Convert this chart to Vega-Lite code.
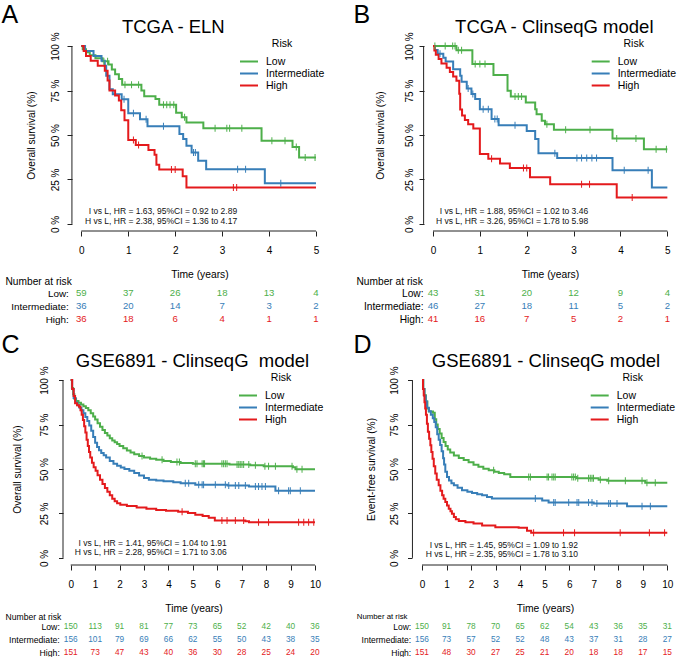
{
"$schema": "https://vega.github.io/schema/vega-lite/v6.json",
"background": "white",
"padding": {"left": 1, "top": 2, "right": 0, "bottom": 0},
"columns": 2,
"spacing": {"row": 45, "column": 87},
"bounds": "flush",
"resolve": {"legend": {"color": "independent"}, "scale": {"x": "independent", "y": "independent"}},
"config": {
  "font": "Liberation Sans",
  "view": {"stroke": null},
  "axis": {"grid": false, "labelColor": "#000", "titleColor": "#000", "tickColor": "#222", "labelFlush": false, "labelOverlap": false, "titleFontWeight": "normal"},
  "axisQuantitative": {"domain": false, "grid": false, "tickSize": 5, "labelFontSize": 10},
  "legend": {"labelColor": "#000", "titleColor": "#000"},
  "title": {"color": "#000", "fontWeight": "normal"}
},
"datasets": {
"km": [
{"p":"A","g":"Low","t":0,"s":100},{"p":"A","g":"Low","t":0.03,"s":98.3},{"p":"A","g":"Low","t":0.1,"s":96.6},{"p":"A","g":"Low","t":0.18,"s":94.9},{"p":"A","g":"Low","t":0.3,"s":93.2},{"p":"A","g":"Low","t":0.45,"s":91.5},{"p":"A","g":"Low","t":0.48,"s":91.5,"c":1},{"p":"A","g":"Low","t":0.56,"s":91.5,"c":1},{"p":"A","g":"Low","t":0.58,"s":89.7},{"p":"A","g":"Low","t":0.65,"s":86.9},{"p":"A","g":"Low","t":0.72,"s":84.2},{"p":"A","g":"Low","t":0.8,"s":81.5},{"p":"A","g":"Low","t":0.87,"s":78.3},{"p":"A","g":"Low","t":0.93,"s":78.3,"c":1},{"p":"A","g":"Low","t":1.07,"s":78.3,"c":1},{"p":"A","g":"Low","t":1.22,"s":78.3,"c":1},{"p":"A","g":"Low","t":1.28,"s":75.1},{"p":"A","g":"Low","t":1.34,"s":71.8},{"p":"A","g":"Low","t":1.58,"s":70.2},{"p":"A","g":"Low","t":1.66,"s":67},{"p":"A","g":"Low","t":1.75,"s":67,"c":1},{"p":"A","g":"Low","t":1.82,"s":67,"c":1},{"p":"A","g":"Low","t":1.89,"s":67,"c":1},{"p":"A","g":"Low","t":1.97,"s":67,"c":1},{"p":"A","g":"Low","t":2.02,"s":62.5},{"p":"A","g":"Low","t":2.14,"s":60},{"p":"A","g":"Low","t":2.2,"s":60,"c":1},{"p":"A","g":"Low","t":2.24,"s":57},{"p":"A","g":"Low","t":2.6,"s":53.8},{"p":"A","g":"Low","t":2.85,"s":53.8,"c":1},{"p":"A","g":"Low","t":3.1,"s":53.8,"c":1},{"p":"A","g":"Low","t":3.16,"s":53.8,"c":1},{"p":"A","g":"Low","t":3.42,"s":53.8,"c":1},{"p":"A","g":"Low","t":3.84,"s":46.8},{"p":"A","g":"Low","t":4.06,"s":46.8,"c":1},{"p":"A","g":"Low","t":4.34,"s":46.8,"c":1},{"p":"A","g":"Low","t":4.5,"s":43.2},{"p":"A","g":"Low","t":4.58,"s":43.2,"c":1},{"p":"A","g":"Low","t":4.64,"s":37.3},{"p":"A","g":"Low","t":4.77,"s":37.3,"c":1},{"p":"A","g":"Low","t":4.98,"s":37.3,"c":1},{"p":"A","g":"Low","t":5,"s":37.3},
{"p":"A","g":"Intermediate","t":0,"s":100},{"p":"A","g":"Intermediate","t":0.08,"s":97.2},{"p":"A","g":"Intermediate","t":0.26,"s":94.4},{"p":"A","g":"Intermediate","t":0.43,"s":91.7},{"p":"A","g":"Intermediate","t":0.5,"s":88.9},{"p":"A","g":"Intermediate","t":0.53,"s":83.3},{"p":"A","g":"Intermediate","t":0.6,"s":75.8},{"p":"A","g":"Intermediate","t":0.67,"s":72.9},{"p":"A","g":"Intermediate","t":0.86,"s":70.1},{"p":"A","g":"Intermediate","t":0.91,"s":70.1,"c":1},{"p":"A","g":"Intermediate","t":1,"s":62.3},{"p":"A","g":"Intermediate","t":1.11,"s":62.3,"c":1},{"p":"A","g":"Intermediate","t":1.25,"s":58.9},{"p":"A","g":"Intermediate","t":1.38,"s":58.9,"c":1},{"p":"A","g":"Intermediate","t":1.41,"s":54.9},{"p":"A","g":"Intermediate","t":1.75,"s":54.9,"c":1},{"p":"A","g":"Intermediate","t":2.09,"s":50.5},{"p":"A","g":"Intermediate","t":2.17,"s":47.7},{"p":"A","g":"Intermediate","t":2.24,"s":43.9},{"p":"A","g":"Intermediate","t":2.35,"s":40.2},{"p":"A","g":"Intermediate","t":2.39,"s":40.2,"c":1},{"p":"A","g":"Intermediate","t":2.43,"s":40.2,"c":1},{"p":"A","g":"Intermediate","t":2.49,"s":35.5},{"p":"A","g":"Intermediate","t":2.66,"s":30.8},{"p":"A","g":"Intermediate","t":3.33,"s":30.8,"c":1},{"p":"A","g":"Intermediate","t":3.5,"s":30.8,"c":1},{"p":"A","g":"Intermediate","t":3.91,"s":22.9},{"p":"A","g":"Intermediate","t":4.25,"s":22.9,"c":1},{"p":"A","g":"Intermediate","t":5,"s":22.9},
{"p":"A","g":"High","t":0,"s":100},{"p":"A","g":"High","t":0.05,"s":97.2},{"p":"A","g":"High","t":0.1,"s":94.4},{"p":"A","g":"High","t":0.2,"s":91.7},{"p":"A","g":"High","t":0.35,"s":88.9},{"p":"A","g":"High","t":0.5,"s":86.1},{"p":"A","g":"High","t":0.56,"s":80.6},{"p":"A","g":"High","t":0.6,"s":75},{"p":"A","g":"High","t":0.72,"s":72.2},{"p":"A","g":"High","t":0.8,"s":69.4},{"p":"A","g":"High","t":0.85,"s":63.9},{"p":"A","g":"High","t":0.92,"s":58.3},{"p":"A","g":"High","t":1,"s":47.2},{"p":"A","g":"High","t":1.11,"s":47.2,"c":1},{"p":"A","g":"High","t":1.16,"s":44.4},{"p":"A","g":"High","t":1.22,"s":44.4,"c":1},{"p":"A","g":"High","t":1.43,"s":41.6},{"p":"A","g":"High","t":1.56,"s":38.9},{"p":"A","g":"High","t":1.6,"s":33.3},{"p":"A","g":"High","t":1.66,"s":30.6},{"p":"A","g":"High","t":1.92,"s":30.6,"c":1},{"p":"A","g":"High","t":2,"s":30.6,"c":1},{"p":"A","g":"High","t":2.16,"s":26.8},{"p":"A","g":"High","t":2.24,"s":20.4},{"p":"A","g":"High","t":3.24,"s":20.4,"c":1},{"p":"A","g":"High","t":3.31,"s":20.4,"c":1},{"p":"A","g":"High","t":5,"s":20.4},
{"p":"B","g":"Low","t":0,"s":100},{"p":"B","g":"Low","t":0.04,"s":100,"c":1},{"p":"B","g":"Low","t":0.26,"s":100,"c":1},{"p":"B","g":"Low","t":0.42,"s":100,"c":1},{"p":"B","g":"Low","t":0.47,"s":100,"c":1},{"p":"B","g":"Low","t":0.5,"s":97.7},{"p":"B","g":"Low","t":0.54,"s":97.7,"c":1},{"p":"B","g":"Low","t":0.61,"s":97.7,"c":1},{"p":"B","g":"Low","t":0.84,"s":89.9},{"p":"B","g":"Low","t":0.9,"s":89.9,"c":1},{"p":"B","g":"Low","t":1,"s":89.9,"c":1},{"p":"B","g":"Low","t":1.11,"s":89.9,"c":1},{"p":"B","g":"Low","t":1.29,"s":83.7},{"p":"B","g":"Low","t":1.59,"s":74.9},{"p":"B","g":"Low","t":1.66,"s":71.7},{"p":"B","g":"Low","t":1.75,"s":71.7,"c":1},{"p":"B","g":"Low","t":1.82,"s":71.7,"c":1},{"p":"B","g":"Low","t":1.89,"s":71.7,"c":1},{"p":"B","g":"Low","t":1.98,"s":68.3},{"p":"B","g":"Low","t":2.18,"s":64.5},{"p":"B","g":"Low","t":2.21,"s":61.7},{"p":"B","g":"Low","t":2.32,"s":58},{"p":"B","g":"Low","t":2.39,"s":56.1},{"p":"B","g":"Low","t":2.43,"s":56.1,"c":1},{"p":"B","g":"Low","t":2.58,"s":52.9},{"p":"B","g":"Low","t":2.83,"s":52.9,"c":1},{"p":"B","g":"Low","t":3.35,"s":52.9,"c":1},{"p":"B","g":"Low","t":3.83,"s":48},{"p":"B","g":"Low","t":3.92,"s":48,"c":1},{"p":"B","g":"Low","t":4.33,"s":48,"c":1},{"p":"B","g":"Low","t":4.5,"s":42},{"p":"B","g":"Low","t":4.76,"s":42,"c":1},{"p":"B","g":"Low","t":4.98,"s":42,"c":1},{"p":"B","g":"Low","t":5,"s":42},
{"p":"B","g":"Intermediate","t":0,"s":100},{"p":"B","g":"Intermediate","t":0.04,"s":97.8},{"p":"B","g":"Intermediate","t":0.1,"s":95.7},{"p":"B","g":"Intermediate","t":0.15,"s":95.7,"c":1},{"p":"B","g":"Intermediate","t":0.22,"s":93.5},{"p":"B","g":"Intermediate","t":0.27,"s":91.3},{"p":"B","g":"Intermediate","t":0.43,"s":87},{"p":"B","g":"Intermediate","t":0.58,"s":83.3},{"p":"B","g":"Intermediate","t":0.61,"s":80},{"p":"B","g":"Intermediate","t":0.72,"s":76.2},{"p":"B","g":"Intermediate","t":0.75,"s":76.2,"c":1},{"p":"B","g":"Intermediate","t":0.82,"s":73},{"p":"B","g":"Intermediate","t":0.85,"s":73,"c":1},{"p":"B","g":"Intermediate","t":0.9,"s":70.2},{"p":"B","g":"Intermediate","t":1,"s":64.5},{"p":"B","g":"Intermediate","t":1.07,"s":64.5,"c":1},{"p":"B","g":"Intermediate","t":1.18,"s":64.5,"c":1},{"p":"B","g":"Intermediate","t":1.25,"s":59},{"p":"B","g":"Intermediate","t":1.32,"s":59,"c":1},{"p":"B","g":"Intermediate","t":1.37,"s":59,"c":1},{"p":"B","g":"Intermediate","t":1.4,"s":55.5},{"p":"B","g":"Intermediate","t":1.75,"s":55.5,"c":1},{"p":"B","g":"Intermediate","t":2,"s":52.3},{"p":"B","g":"Intermediate","t":2.18,"s":47.7},{"p":"B","g":"Intermediate","t":2.25,"s":39.8},{"p":"B","g":"Intermediate","t":2.6,"s":39.8,"c":1},{"p":"B","g":"Intermediate","t":2.65,"s":37},{"p":"B","g":"Intermediate","t":3.07,"s":37,"c":1},{"p":"B","g":"Intermediate","t":3.17,"s":37,"c":1},{"p":"B","g":"Intermediate","t":3.28,"s":37,"c":1},{"p":"B","g":"Intermediate","t":3.39,"s":37,"c":1},{"p":"B","g":"Intermediate","t":3.49,"s":37,"c":1},{"p":"B","g":"Intermediate","t":3.83,"s":30.2},{"p":"B","g":"Intermediate","t":4.08,"s":30.2,"c":1},{"p":"B","g":"Intermediate","t":4.59,"s":30.2,"c":1},{"p":"B","g":"Intermediate","t":4.67,"s":20.4},{"p":"B","g":"Intermediate","t":5,"s":20.4},
{"p":"B","g":"High","t":0,"s":100},{"p":"B","g":"High","t":0.03,"s":97.6},{"p":"B","g":"High","t":0.06,"s":95.1},{"p":"B","g":"High","t":0.12,"s":92.7},{"p":"B","g":"High","t":0.18,"s":90.2},{"p":"B","g":"High","t":0.29,"s":87.8},{"p":"B","g":"High","t":0.36,"s":85.4},{"p":"B","g":"High","t":0.43,"s":82.9},{"p":"B","g":"High","t":0.5,"s":80.5},{"p":"B","g":"High","t":0.56,"s":73.2},{"p":"B","g":"High","t":0.58,"s":64.4},{"p":"B","g":"High","t":0.62,"s":61},{"p":"B","g":"High","t":0.68,"s":58.5},{"p":"B","g":"High","t":0.75,"s":56.1},{"p":"B","g":"High","t":0.86,"s":53.7},{"p":"B","g":"High","t":1,"s":39.3},{"p":"B","g":"High","t":1.18,"s":36.6},{"p":"B","g":"High","t":1.25,"s":36.6,"c":1},{"p":"B","g":"High","t":1.43,"s":34},{"p":"B","g":"High","t":1.64,"s":31.4},{"p":"B","g":"High","t":1.93,"s":31.4,"c":1},{"p":"B","g":"High","t":2,"s":31.4,"c":1},{"p":"B","g":"High","t":2.07,"s":26.2},{"p":"B","g":"High","t":2.5,"s":22.3},{"p":"B","g":"High","t":3.17,"s":22.3,"c":1},{"p":"B","g":"High","t":3.34,"s":22.3,"c":1},{"p":"B","g":"High","t":3.92,"s":14.8},{"p":"B","g":"High","t":4.25,"s":14.8,"c":1},{"p":"B","g":"High","t":5,"s":14.8},
{"p":"C","g":"Low","t":0,"s":100},{"p":"C","g":"Low","t":0.05,"s":95.5},{"p":"C","g":"Low","t":0.1,"s":92},{"p":"C","g":"Low","t":0.15,"s":89.5},{"p":"C","g":"Low","t":0.22,"s":88.3},{"p":"C","g":"Low","t":0.32,"s":87.3},{"p":"C","g":"Low","t":0.42,"s":86.3},{"p":"C","g":"Low","t":0.52,"s":85.3},{"p":"C","g":"Low","t":0.62,"s":84.3},{"p":"C","g":"Low","t":0.72,"s":83},{"p":"C","g":"Low","t":0.82,"s":81.3},{"p":"C","g":"Low","t":0.92,"s":79.5},{"p":"C","g":"Low","t":1,"s":77.8},{"p":"C","g":"Low","t":1.1,"s":75.8},{"p":"C","g":"Low","t":1.2,"s":73.8},{"p":"C","g":"Low","t":1.3,"s":71.9},{"p":"C","g":"Low","t":1.4,"s":70.3},{"p":"C","g":"Low","t":1.5,"s":68.8},{"p":"C","g":"Low","t":1.6,"s":67.3},{"p":"C","g":"Low","t":1.7,"s":66.1},{"p":"C","g":"Low","t":1.8,"s":65},{"p":"C","g":"Low","t":1.9,"s":64},{"p":"C","g":"Low","t":2,"s":63},{"p":"C","g":"Low","t":2.15,"s":61.7},{"p":"C","g":"Low","t":2.3,"s":60.4},{"p":"C","g":"Low","t":2.45,"s":59.3},{"p":"C","g":"Low","t":2.6,"s":58.3},{"p":"C","g":"Low","t":2.8,"s":57.3},{"p":"C","g":"Low","t":2.92,"s":57.3,"c":1},{"p":"C","g":"Low","t":3,"s":56.4},{"p":"C","g":"Low","t":3.25,"s":55.8},{"p":"C","g":"Low","t":3.5,"s":55.2},{"p":"C","g":"Low","t":3.74,"s":55.2,"c":1},{"p":"C","g":"Low","t":3.8,"s":54.5},{"p":"C","g":"Low","t":4.1,"s":54},{"p":"C","g":"Low","t":4.35,"s":54,"c":1},{"p":"C","g":"Low","t":4.45,"s":54,"c":1},{"p":"C","g":"Low","t":4.5,"s":53.4},{"p":"C","g":"Low","t":5,"s":53},{"p":"C","g":"Low","t":5.1,"s":53,"c":1},{"p":"C","g":"Low","t":5.17,"s":53,"c":1},{"p":"C","g":"Low","t":5.38,"s":53,"c":1},{"p":"C","g":"Low","t":5.44,"s":53,"c":1},{"p":"C","g":"Low","t":5.48,"s":53,"c":1},{"p":"C","g":"Low","t":6.19,"s":53,"c":1},{"p":"C","g":"Low","t":6.26,"s":53,"c":1},{"p":"C","g":"Low","t":6.33,"s":53,"c":1},{"p":"C","g":"Low","t":6.4,"s":53,"c":1},{"p":"C","g":"Low","t":6.5,"s":52.6},{"p":"C","g":"Low","t":6.81,"s":52.6,"c":1},{"p":"C","g":"Low","t":6.88,"s":52.6,"c":1},{"p":"C","g":"Low","t":6.94,"s":52.6,"c":1},{"p":"C","g":"Low","t":7.01,"s":52.6,"c":1},{"p":"C","g":"Low","t":7.08,"s":52.6,"c":1},{"p":"C","g":"Low","t":7.29,"s":52.6,"c":1},{"p":"C","g":"Low","t":7.35,"s":52.1},{"p":"C","g":"Low","t":7.56,"s":52.1,"c":1},{"p":"C","g":"Low","t":7.9,"s":51.5},{"p":"C","g":"Low","t":7.95,"s":51.5,"c":1},{"p":"C","g":"Low","t":8.1,"s":51.5,"c":1},{"p":"C","g":"Low","t":8.38,"s":51.5,"c":1},{"p":"C","g":"Low","t":9.06,"s":51.5,"c":1},{"p":"C","g":"Low","t":9.1,"s":51},{"p":"C","g":"Low","t":9.2,"s":49.8},{"p":"C","g":"Low","t":9.26,"s":49.8,"c":1},{"p":"C","g":"Low","t":9.47,"s":49.8,"c":1},{"p":"C","g":"Low","t":10,"s":49.8},
{"p":"C","g":"Intermediate","t":0,"s":100},{"p":"C","g":"Intermediate","t":0.06,"s":95},{"p":"C","g":"Intermediate","t":0.12,"s":90},{"p":"C","g":"Intermediate","t":0.2,"s":87.3},{"p":"C","g":"Intermediate","t":0.28,"s":85.8},{"p":"C","g":"Intermediate","t":0.36,"s":84.5},{"p":"C","g":"Intermediate","t":0.44,"s":83},{"p":"C","g":"Intermediate","t":0.52,"s":81.3},{"p":"C","g":"Intermediate","t":0.6,"s":79.2},{"p":"C","g":"Intermediate","t":0.68,"s":77},{"p":"C","g":"Intermediate","t":0.76,"s":74.5},{"p":"C","g":"Intermediate","t":0.84,"s":71.5},{"p":"C","g":"Intermediate","t":0.92,"s":68},{"p":"C","g":"Intermediate","t":1,"s":64.8},{"p":"C","g":"Intermediate","t":1.08,"s":62.4},{"p":"C","g":"Intermediate","t":1.16,"s":60.5},{"p":"C","g":"Intermediate","t":1.25,"s":59},{"p":"C","g":"Intermediate","t":1.35,"s":57.7},{"p":"C","g":"Intermediate","t":1.45,"s":56.5},{"p":"C","g":"Intermediate","t":1.6,"s":54.5},{"p":"C","g":"Intermediate","t":1.75,"s":53},{"p":"C","g":"Intermediate","t":1.9,"s":51.8},{"p":"C","g":"Intermediate","t":2.05,"s":50.8},{"p":"C","g":"Intermediate","t":2.2,"s":50},{"p":"C","g":"Intermediate","t":2.4,"s":49},{"p":"C","g":"Intermediate","t":2.6,"s":47.8},{"p":"C","g":"Intermediate","t":2.8,"s":46.4},{"p":"C","g":"Intermediate","t":3,"s":45},{"p":"C","g":"Intermediate","t":3.2,"s":44},{"p":"C","g":"Intermediate","t":3.5,"s":43.5},{"p":"C","g":"Intermediate","t":3.8,"s":43.1},{"p":"C","g":"Intermediate","t":4.2,"s":42.5},{"p":"C","g":"Intermediate","t":4.5,"s":42},{"p":"C","g":"Intermediate","t":4.69,"s":42,"c":1},{"p":"C","g":"Intermediate","t":4.83,"s":42,"c":1},{"p":"C","g":"Intermediate","t":5.1,"s":41.2},{"p":"C","g":"Intermediate","t":5.24,"s":41.2,"c":1},{"p":"C","g":"Intermediate","t":5.38,"s":41.2,"c":1},{"p":"C","g":"Intermediate","t":5.44,"s":41.2,"c":1},{"p":"C","g":"Intermediate","t":5.92,"s":41.2,"c":1},{"p":"C","g":"Intermediate","t":6.33,"s":41.2,"c":1},{"p":"C","g":"Intermediate","t":6.42,"s":40.7},{"p":"C","g":"Intermediate","t":6.47,"s":40.7,"c":1},{"p":"C","g":"Intermediate","t":6.74,"s":40.7,"c":1},{"p":"C","g":"Intermediate","t":6.88,"s":40.7,"c":1},{"p":"C","g":"Intermediate","t":7.15,"s":40.7,"c":1},{"p":"C","g":"Intermediate","t":7.3,"s":40.1},{"p":"C","g":"Intermediate","t":7.56,"s":40.1,"c":1},{"p":"C","g":"Intermediate","t":7.69,"s":40.1,"c":1},{"p":"C","g":"Intermediate","t":7.83,"s":40.1,"c":1},{"p":"C","g":"Intermediate","t":7.97,"s":40.1,"c":1},{"p":"C","g":"Intermediate","t":8.38,"s":37.8},{"p":"C","g":"Intermediate","t":8.51,"s":37.8,"c":1},{"p":"C","g":"Intermediate","t":8.92,"s":37.8,"c":1},{"p":"C","g":"Intermediate","t":8.99,"s":37.8,"c":1},{"p":"C","g":"Intermediate","t":9.4,"s":37.8,"c":1},{"p":"C","g":"Intermediate","t":10,"s":37.8},
{"p":"C","g":"High","t":0,"s":100},{"p":"C","g":"High","t":0.06,"s":95},{"p":"C","g":"High","t":0.12,"s":91},{"p":"C","g":"High","t":0.18,"s":87},{"p":"C","g":"High","t":0.26,"s":85.8},{"p":"C","g":"High","t":0.34,"s":85},{"p":"C","g":"High","t":0.4,"s":83},{"p":"C","g":"High","t":0.45,"s":80.5},{"p":"C","g":"High","t":0.5,"s":77.5},{"p":"C","g":"High","t":0.55,"s":74},{"p":"C","g":"High","t":0.6,"s":70.5},{"p":"C","g":"High","t":0.65,"s":66.5},{"p":"C","g":"High","t":0.7,"s":63},{"p":"C","g":"High","t":0.75,"s":59.5},{"p":"C","g":"High","t":0.8,"s":56.5},{"p":"C","g":"High","t":0.87,"s":53.5},{"p":"C","g":"High","t":0.94,"s":51},{"p":"C","g":"High","t":1.02,"s":49},{"p":"C","g":"High","t":1.1,"s":46.5},{"p":"C","g":"High","t":1.2,"s":44},{"p":"C","g":"High","t":1.3,"s":41.5},{"p":"C","g":"High","t":1.4,"s":39.3},{"p":"C","g":"High","t":1.5,"s":37.2},{"p":"C","g":"High","t":1.6,"s":35.2},{"p":"C","g":"High","t":1.7,"s":33.3},{"p":"C","g":"High","t":1.8,"s":31.8},{"p":"C","g":"High","t":1.9,"s":30.7},{"p":"C","g":"High","t":2.03,"s":29.9},{"p":"C","g":"High","t":2.3,"s":29.2},{"p":"C","g":"High","t":2.7,"s":28.4},{"p":"C","g":"High","t":3.1,"s":27.6},{"p":"C","g":"High","t":3.5,"s":27},{"p":"C","g":"High","t":3.9,"s":26.5},{"p":"C","g":"High","t":4.4,"s":25.9},{"p":"C","g":"High","t":4.56,"s":25.9,"c":1},{"p":"C","g":"High","t":4.8,"s":25.2},{"p":"C","g":"High","t":5.1,"s":24.3},{"p":"C","g":"High","t":5.4,"s":23.5},{"p":"C","g":"High","t":5.65,"s":22.6},{"p":"C","g":"High","t":5.9,"s":21.1},{"p":"C","g":"High","t":6.19,"s":21.1,"c":1},{"p":"C","g":"High","t":6.4,"s":21.1,"c":1},{"p":"C","g":"High","t":6.74,"s":21.1,"c":1},{"p":"C","g":"High","t":7.08,"s":21.1,"c":1},{"p":"C","g":"High","t":7.15,"s":20.6},{"p":"C","g":"High","t":7.3,"s":20.1},{"p":"C","g":"High","t":7.69,"s":20.1,"c":1},{"p":"C","g":"High","t":8.1,"s":20.1,"c":1},{"p":"C","g":"High","t":9.33,"s":20.1,"c":1},{"p":"C","g":"High","t":9.54,"s":20.1,"c":1},{"p":"C","g":"High","t":9.74,"s":20.1,"c":1},{"p":"C","g":"High","t":9.95,"s":20.1,"c":1},{"p":"C","g":"High","t":10,"s":20.1},
{"p":"D","g":"Low","t":0,"s":100},{"p":"D","g":"Low","t":0.05,"s":95},{"p":"D","g":"Low","t":0.1,"s":91.5},{"p":"D","g":"Low","t":0.16,"s":88},{"p":"D","g":"Low","t":0.22,"s":84},{"p":"D","g":"Low","t":0.28,"s":82.3},{"p":"D","g":"Low","t":0.45,"s":81.6},{"p":"D","g":"Low","t":0.52,"s":78},{"p":"D","g":"Low","t":0.58,"s":75},{"p":"D","g":"Low","t":0.64,"s":72.5},{"p":"D","g":"Low","t":0.72,"s":70},{"p":"D","g":"Low","t":0.8,"s":67.5},{"p":"D","g":"Low","t":0.88,"s":65.2},{"p":"D","g":"Low","t":0.96,"s":63},{"p":"D","g":"Low","t":1.05,"s":61},{"p":"D","g":"Low","t":1.15,"s":59.3},{"p":"D","g":"Low","t":1.3,"s":57.6},{"p":"D","g":"Low","t":1.5,"s":56.2},{"p":"D","g":"Low","t":1.7,"s":55},{"p":"D","g":"Low","t":1.9,"s":53.8},{"p":"D","g":"Low","t":2.1,"s":52.4},{"p":"D","g":"Low","t":2.3,"s":51.2},{"p":"D","g":"Low","t":2.5,"s":50.2},{"p":"D","g":"Low","t":2.72,"s":49.3},{"p":"D","g":"Low","t":2.92,"s":49.3,"c":1},{"p":"D","g":"Low","t":2.95,"s":48.5},{"p":"D","g":"Low","t":3.13,"s":47.7},{"p":"D","g":"Low","t":3.35,"s":47},{"p":"D","g":"Low","t":3.6,"s":45.5},{"p":"D","g":"Low","t":4.35,"s":45.5,"c":1},{"p":"D","g":"Low","t":4.42,"s":45.5,"c":1},{"p":"D","g":"Low","t":5.1,"s":45.5,"c":1},{"p":"D","g":"Low","t":5.16,"s":45.5,"c":1},{"p":"D","g":"Low","t":5.3,"s":45.5,"c":1},{"p":"D","g":"Low","t":5.37,"s":45.5,"c":1},{"p":"D","g":"Low","t":5.43,"s":45.5,"c":1},{"p":"D","g":"Low","t":6.11,"s":45.5,"c":1},{"p":"D","g":"Low","t":6.18,"s":45.5,"c":1},{"p":"D","g":"Low","t":6.25,"s":45.5,"c":1},{"p":"D","g":"Low","t":6.3,"s":44.8},{"p":"D","g":"Low","t":6.35,"s":44.8,"c":1},{"p":"D","g":"Low","t":6.79,"s":44.8,"c":1},{"p":"D","g":"Low","t":6.86,"s":44.8,"c":1},{"p":"D","g":"Low","t":6.93,"s":44.8,"c":1},{"p":"D","g":"Low","t":6.99,"s":44.8,"c":1},{"p":"D","g":"Low","t":7.2,"s":43.9},{"p":"D","g":"Low","t":7.27,"s":43.9,"c":1},{"p":"D","g":"Low","t":7.55,"s":43.4},{"p":"D","g":"Low","t":7.61,"s":43.4,"c":1},{"p":"D","g":"Low","t":8.29,"s":43.4,"c":1},{"p":"D","g":"Low","t":8.97,"s":43.4,"c":1},{"p":"D","g":"Low","t":9.1,"s":42.3},{"p":"D","g":"Low","t":9.17,"s":42.3,"c":1},{"p":"D","g":"Low","t":9.51,"s":42.3,"c":1},{"p":"D","g":"Low","t":10,"s":42.3},
{"p":"D","g":"Intermediate","t":0,"s":100},{"p":"D","g":"Intermediate","t":0.05,"s":95},{"p":"D","g":"Intermediate","t":0.1,"s":91},{"p":"D","g":"Intermediate","t":0.15,"s":88},{"p":"D","g":"Intermediate","t":0.2,"s":84.5},{"p":"D","g":"Intermediate","t":0.28,"s":82.5},{"p":"D","g":"Intermediate","t":0.36,"s":80.5},{"p":"D","g":"Intermediate","t":0.44,"s":78.5},{"p":"D","g":"Intermediate","t":0.5,"s":76.5},{"p":"D","g":"Intermediate","t":0.56,"s":73.5},{"p":"D","g":"Intermediate","t":0.62,"s":69.5},{"p":"D","g":"Intermediate","t":0.68,"s":66.5},{"p":"D","g":"Intermediate","t":0.74,"s":63.5},{"p":"D","g":"Intermediate","t":0.8,"s":60},{"p":"D","g":"Intermediate","t":0.86,"s":56},{"p":"D","g":"Intermediate","t":0.9,"s":52.5},{"p":"D","g":"Intermediate","t":0.95,"s":48.5},{"p":"D","g":"Intermediate","t":1.02,"s":45.5},{"p":"D","g":"Intermediate","t":1.1,"s":43.5},{"p":"D","g":"Intermediate","t":1.2,"s":42},{"p":"D","g":"Intermediate","t":1.3,"s":40.8},{"p":"D","g":"Intermediate","t":1.45,"s":39.5},{"p":"D","g":"Intermediate","t":1.63,"s":38},{"p":"D","g":"Intermediate","t":1.85,"s":37.2},{"p":"D","g":"Intermediate","t":2.04,"s":36.5},{"p":"D","g":"Intermediate","t":2.25,"s":35.8},{"p":"D","g":"Intermediate","t":2.45,"s":35.2},{"p":"D","g":"Intermediate","t":2.65,"s":34.3},{"p":"D","g":"Intermediate","t":2.85,"s":33.4},{"p":"D","g":"Intermediate","t":4.62,"s":33.4,"c":1},{"p":"D","g":"Intermediate","t":4.9,"s":32.3},{"p":"D","g":"Intermediate","t":5.16,"s":31.2},{"p":"D","g":"Intermediate","t":5.37,"s":31.2,"c":1},{"p":"D","g":"Intermediate","t":5.43,"s":31.2,"c":1},{"p":"D","g":"Intermediate","t":5.98,"s":31.2,"c":1},{"p":"D","g":"Intermediate","t":6.32,"s":31.2,"c":1},{"p":"D","g":"Intermediate","t":6.39,"s":31.2,"c":1},{"p":"D","g":"Intermediate","t":6.79,"s":31.2,"c":1},{"p":"D","g":"Intermediate","t":6.93,"s":31.2,"c":1},{"p":"D","g":"Intermediate","t":7,"s":30.6},{"p":"D","g":"Intermediate","t":7.13,"s":30.6,"c":1},{"p":"D","g":"Intermediate","t":7.61,"s":30.6,"c":1},{"p":"D","g":"Intermediate","t":7.68,"s":30.6,"c":1},{"p":"D","g":"Intermediate","t":7.95,"s":30.6,"c":1},{"p":"D","g":"Intermediate","t":8.36,"s":29.1},{"p":"D","g":"Intermediate","t":8.97,"s":29.1,"c":1},{"p":"D","g":"Intermediate","t":9.31,"s":29.1,"c":1},{"p":"D","g":"Intermediate","t":10,"s":29.1},
{"p":"D","g":"High","t":0,"s":100},{"p":"D","g":"High","t":0.04,"s":95},{"p":"D","g":"High","t":0.07,"s":91.5},{"p":"D","g":"High","t":0.1,"s":87.5},{"p":"D","g":"High","t":0.13,"s":84},{"p":"D","g":"High","t":0.16,"s":80.5},{"p":"D","g":"High","t":0.2,"s":75.5},{"p":"D","g":"High","t":0.24,"s":71},{"p":"D","g":"High","t":0.29,"s":67},{"p":"D","g":"High","t":0.34,"s":63.3},{"p":"D","g":"High","t":0.38,"s":59.5},{"p":"D","g":"High","t":0.43,"s":55.8},{"p":"D","g":"High","t":0.48,"s":51.5},{"p":"D","g":"High","t":0.54,"s":47.4},{"p":"D","g":"High","t":0.6,"s":44},{"p":"D","g":"High","t":0.68,"s":40.8},{"p":"D","g":"High","t":0.75,"s":37.8},{"p":"D","g":"High","t":0.82,"s":35.2},{"p":"D","g":"High","t":0.88,"s":33.2},{"p":"D","g":"High","t":0.95,"s":31.4},{"p":"D","g":"High","t":1.02,"s":29.5},{"p":"D","g":"High","t":1.09,"s":27.6},{"p":"D","g":"High","t":1.16,"s":26.2},{"p":"D","g":"High","t":1.22,"s":24.8},{"p":"D","g":"High","t":1.3,"s":23},{"p":"D","g":"High","t":1.38,"s":21.8},{"p":"D","g":"High","t":1.5,"s":20.8},{"p":"D","g":"High","t":1.77,"s":20.1},{"p":"D","g":"High","t":2.1,"s":19.3},{"p":"D","g":"High","t":2.45,"s":18.2},{"p":"D","g":"High","t":2.99,"s":17.3},{"p":"D","g":"High","t":3.94,"s":16.9},{"p":"D","g":"High","t":4.28,"s":15.2},{"p":"D","g":"High","t":4.45,"s":14.2},{"p":"D","g":"High","t":4.55,"s":14.2,"c":1},{"p":"D","g":"High","t":5.77,"s":14.2,"c":1},{"p":"D","g":"High","t":6.22,"s":14.2,"c":1},{"p":"D","g":"High","t":8.08,"s":14.2,"c":1},{"p":"D","g":"High","t":9.27,"s":14.2,"c":1},{"p":"D","g":"High","t":9.89,"s":14.2,"c":1},{"p":"D","g":"High","t":10,"s":14.2}
],
"risk": [
{"p":"A","g":"Low","t":0,"n":59},{"p":"A","g":"Low","t":1,"n":37},{"p":"A","g":"Low","t":2,"n":26},{"p":"A","g":"Low","t":3,"n":18},{"p":"A","g":"Low","t":4,"n":13},{"p":"A","g":"Low","t":5,"n":4},
{"p":"A","g":"Intermediate","t":0,"n":36},{"p":"A","g":"Intermediate","t":1,"n":20},{"p":"A","g":"Intermediate","t":2,"n":14},{"p":"A","g":"Intermediate","t":3,"n":7},{"p":"A","g":"Intermediate","t":4,"n":3},{"p":"A","g":"Intermediate","t":5,"n":2},
{"p":"A","g":"High","t":0,"n":36},{"p":"A","g":"High","t":1,"n":18},{"p":"A","g":"High","t":2,"n":6},{"p":"A","g":"High","t":3,"n":4},{"p":"A","g":"High","t":4,"n":1},{"p":"A","g":"High","t":5,"n":1},
{"p":"B","g":"Low","t":0,"n":43},{"p":"B","g":"Low","t":1,"n":31},{"p":"B","g":"Low","t":2,"n":20},{"p":"B","g":"Low","t":3,"n":12},{"p":"B","g":"Low","t":4,"n":9},{"p":"B","g":"Low","t":5,"n":4},
{"p":"B","g":"Intermediate","t":0,"n":46},{"p":"B","g":"Intermediate","t":1,"n":27},{"p":"B","g":"Intermediate","t":2,"n":18},{"p":"B","g":"Intermediate","t":3,"n":11},{"p":"B","g":"Intermediate","t":4,"n":5},{"p":"B","g":"Intermediate","t":5,"n":2},
{"p":"B","g":"High","t":0,"n":41},{"p":"B","g":"High","t":1,"n":16},{"p":"B","g":"High","t":2,"n":7},{"p":"B","g":"High","t":3,"n":5},{"p":"B","g":"High","t":4,"n":2},{"p":"B","g":"High","t":5,"n":1},
{"p":"C","g":"Low","t":0,"n":150},{"p":"C","g":"Low","t":1,"n":113},{"p":"C","g":"Low","t":2,"n":91},{"p":"C","g":"Low","t":3,"n":81},{"p":"C","g":"Low","t":4,"n":77},{"p":"C","g":"Low","t":5,"n":73},{"p":"C","g":"Low","t":6,"n":65},{"p":"C","g":"Low","t":7,"n":52},{"p":"C","g":"Low","t":8,"n":42},{"p":"C","g":"Low","t":9,"n":40},{"p":"C","g":"Low","t":10,"n":36},
{"p":"C","g":"Intermediate","t":0,"n":156},{"p":"C","g":"Intermediate","t":1,"n":101},{"p":"C","g":"Intermediate","t":2,"n":79},{"p":"C","g":"Intermediate","t":3,"n":69},{"p":"C","g":"Intermediate","t":4,"n":66},{"p":"C","g":"Intermediate","t":5,"n":62},{"p":"C","g":"Intermediate","t":6,"n":55},{"p":"C","g":"Intermediate","t":7,"n":50},{"p":"C","g":"Intermediate","t":8,"n":43},{"p":"C","g":"Intermediate","t":9,"n":38},{"p":"C","g":"Intermediate","t":10,"n":35},
{"p":"C","g":"High","t":0,"n":151},{"p":"C","g":"High","t":1,"n":73},{"p":"C","g":"High","t":2,"n":47},{"p":"C","g":"High","t":3,"n":43},{"p":"C","g":"High","t":4,"n":40},{"p":"C","g":"High","t":5,"n":36},{"p":"C","g":"High","t":6,"n":30},{"p":"C","g":"High","t":7,"n":28},{"p":"C","g":"High","t":8,"n":25},{"p":"C","g":"High","t":9,"n":24},{"p":"C","g":"High","t":10,"n":20},
{"p":"D","g":"Low","t":0,"n":150},{"p":"D","g":"Low","t":1,"n":91},{"p":"D","g":"Low","t":2,"n":78},{"p":"D","g":"Low","t":3,"n":70},{"p":"D","g":"Low","t":4,"n":65},{"p":"D","g":"Low","t":5,"n":62},{"p":"D","g":"Low","t":6,"n":54},{"p":"D","g":"Low","t":7,"n":43},{"p":"D","g":"Low","t":8,"n":36},{"p":"D","g":"Low","t":9,"n":35},{"p":"D","g":"Low","t":10,"n":31},
{"p":"D","g":"Intermediate","t":0,"n":156},{"p":"D","g":"Intermediate","t":1,"n":73},{"p":"D","g":"Intermediate","t":2,"n":57},{"p":"D","g":"Intermediate","t":3,"n":52},{"p":"D","g":"Intermediate","t":4,"n":52},{"p":"D","g":"Intermediate","t":5,"n":48},{"p":"D","g":"Intermediate","t":6,"n":43},{"p":"D","g":"Intermediate","t":7,"n":37},{"p":"D","g":"Intermediate","t":8,"n":31},{"p":"D","g":"Intermediate","t":9,"n":28},{"p":"D","g":"Intermediate","t":10,"n":27},
{"p":"D","g":"High","t":0,"n":151},{"p":"D","g":"High","t":1,"n":48},{"p":"D","g":"High","t":2,"n":30},{"p":"D","g":"High","t":3,"n":27},{"p":"D","g":"High","t":4,"n":25},{"p":"D","g":"High","t":5,"n":21},{"p":"D","g":"High","t":6,"n":20},{"p":"D","g":"High","t":7,"n":18},{"p":"D","g":"High","t":8,"n":18},{"p":"D","g":"High","t":9,"n":17},{"p":"D","g":"High","t":10,"n":15}
]
},
"concat": [
{
 "width": 264, "height": 192,
 "title": {"text": "TCGA - ELN", "fontSize": 18.5, "anchor": "middle", "frame": "group", "dx": -19.7, "dy": 3, "offset": -16.9, "baseline": "alphabetic"},
 "layer": [
  {"data": {"name": "km"}, "transform": [{"filter": "datum.p == 'A'"}],
   "mark": {"type": "line", "interpolate": "step-after", "strokeWidth": 2},
   "encoding": {
    "x": {"field": "t", "type": "quantitative", "scale": {"domain": [-0.433, 5.192], "nice": false, "zero": false},
          "axis": {"values": [0,1,2,3,4,5], "labelPadding": 9, "title": "Time (years)", "titleFontSize": 10.3, "titleBaseline": "middle", "titleX": 138.5, "titleY": 43.3}},
    "y": {"field": "s", "type": "quantitative", "scale": {"domain": [-4, 104], "nice": false, "zero": false},
          "axis": {"values": [0,25,50,75,100], "labelExpr": "datum.value + ' %'", "offset": -11, "labelAngle": 270, "labelAlign": "center", "labelBaseline": "alphabetic", "labelPadding": 9, "title": "Overall survival (%)", "titleFontSize": 10.2, "titleAngle": 270, "titleAlign": "center", "titleBaseline": "alphabetic", "titleX": -37.3, "titleY": 96}},
    "color": {"field": "g", "type": "nominal", "scale": {"domain": ["Low","Intermediate","High"], "range": ["#4DAF4A","#377EB8","#E41A1C"]},
              "legend": {"title": "Risk", "orient": "none", "legendX": 178, "legendY": 0, "symbolType": "stroke", "symbolSize": 324, "symbolStrokeWidth": 2, "clipHeight": 12, "rowPadding": 0, "labelOffset": 7, "titlePadding": 6, "titleAnchor": "middle", "labelFontSize": 10.5, "titleFontSize": 10.5, "titleFontWeight": "normal", "padding": 0}}
   }},
  {"data": {"name": "km"}, "transform": [{"filter": "datum.p == 'A' && datum.c == 1"}],
   "mark": {"type": "tick", "orient": "vertical", "size": 7, "thickness": 1, "opacity": 1},
   "encoding": {
    "x": {"field": "t", "type": "quantitative", "axis": {"values": [0,1,2,3,4,5], "labelPadding": 9, "title": "Time (years)", "titleFontSize": 10.3, "titleBaseline": "middle", "titleX": 138.5, "titleY": 43.3}},
    "y": {"field": "s", "type": "quantitative", "axis": {"values": [0,25,50,75,100], "labelExpr": "datum.value + ' %'", "offset": -11, "labelAngle": 270, "labelAlign": "center", "labelBaseline": "alphabetic", "labelPadding": 9, "title": "Overall survival (%)", "titleFontSize": 10.2, "titleAngle": 270, "titleAlign": "center", "titleBaseline": "alphabetic", "titleX": -37.3, "titleY": 96}},
    "color": {"field": "g", "type": "nominal", "scale": {"domain": ["Low","Intermediate","High"], "range": ["#4DAF4A","#377EB8","#E41A1C"]}, "legend": null}
   }},
  {"data": {"values": [{}]}, "mark": {"type": "rule", "color": "#222", "strokeWidth": 1},
   "encoding": {
    "x": {"datum": 0, "type": "quantitative", "axis": {"values": [0,1,2,3,4,5], "labelPadding": 9, "title": "Time (years)", "titleFontSize": 10.3, "titleBaseline": "middle", "titleX": 138.5, "titleY": 43.3}},
    "x2": {"datum": 5},
    "y": {"datum": -4, "type": "quantitative", "axis": {"values": [0,25,50,75,100], "labelExpr": "datum.value + ' %'", "offset": -11, "labelAngle": 270, "labelAlign": "center", "labelBaseline": "alphabetic", "labelPadding": 9, "title": "Overall survival (%)", "titleFontSize": 10.2, "titleAngle": 270, "titleAlign": "center", "titleBaseline": "alphabetic", "titleX": -37.3, "titleY": 96}}}},
  {"data": {"values": [{}]}, "mark": {"type": "rule", "color": "#222", "strokeWidth": 1},
   "encoding": {
    "x": {"datum": -0.2, "type": "quantitative", "axis": {"values": [0,1,2,3,4,5], "labelPadding": 9, "title": "Time (years)", "titleFontSize": 10.3, "titleBaseline": "middle", "titleX": 138.5, "titleY": 43.3}},
    "y": {"datum": 0, "type": "quantitative", "axis": {"values": [0,25,50,75,100], "labelExpr": "datum.value + ' %'", "offset": -11, "labelAngle": 270, "labelAlign": "center", "labelBaseline": "alphabetic", "labelPadding": 9, "title": "Overall survival (%)", "titleFontSize": 10.2, "titleAngle": 270, "titleAlign": "center", "titleBaseline": "alphabetic", "titleX": -37.3, "titleY": 96}},
    "y2": {"datum": 100}}},
  {"data": {"values": [{}]}, "mark": {"type": "text", "align": "right", "baseline": "middle", "fontSize": 8.5, "lineHeight": 9.8, "color": "#111"},
   "encoding": {
    "x": {"datum": 3.32, "type": "quantitative", "axis": {"values": [0,1,2,3,4,5], "labelPadding": 9, "title": "Time (years)", "titleFontSize": 10.3, "titleBaseline": "middle", "titleX": 138.5, "titleY": 43.3}},
    "y": {"datum": 7.25, "type": "quantitative", "axis": {"values": [0,25,50,75,100], "labelExpr": "datum.value + ' %'", "offset": -11, "labelAngle": 270, "labelAlign": "center", "labelBaseline": "alphabetic", "labelPadding": 9, "title": "Overall survival (%)", "titleFontSize": 10.2, "titleAngle": 270, "titleAlign": "center", "titleBaseline": "alphabetic", "titleX": -37.3, "titleY": 96}},
    "text": {"value": ["I vs L, HR = 1.63, 95%CI = 0.92 to 2.89", "H vs L, HR = 2.38, 95%CI = 1.36 to 4.17"]}}}
 ]
},
{
 "width": 265, "height": 192,
 "title": {"text": "TCGA - ClinseqG model", "fontSize": 18.5, "anchor": "middle", "frame": "group", "dx": 9.8, "dy": 3, "offset": -16.9, "baseline": "alphabetic"},
 "layer": [
  {"data": {"name": "km"}, "transform": [{"filter": "datum.p == 'B'"}],
   "mark": {"type": "line", "interpolate": "step-after", "strokeWidth": 2},
   "encoding": {
    "x": {"field": "t", "type": "quantitative", "scale": {"domain": [-0.448, 5.206], "nice": false, "zero": false},
          "axis": {"values": [0,1,2,3,4,5], "labelPadding": 9, "title": "Time (years)", "titleFontSize": 10.3, "titleBaseline": "middle", "titleX": 138, "titleY": 43.3}},
    "y": {"field": "s", "type": "quantitative", "scale": {"domain": [-4, 104], "nice": false, "zero": false},
          "axis": {"values": [0,25,50,75,100], "labelExpr": "datum.value + ' %'", "offset": -12, "labelAngle": 270, "labelAlign": "center", "labelBaseline": "alphabetic", "labelPadding": 7, "title": "Overall survival (%)", "titleFontSize": 10.2, "titleAngle": 270, "titleAlign": "center", "titleBaseline": "alphabetic", "titleX": -41, "titleY": 96}},
    "color": {"field": "g", "type": "nominal", "scale": {"domain": ["Low","Intermediate","High"], "range": ["#4DAF4A","#377EB8","#E41A1C"]},
              "legend": {"title": "Risk", "orient": "none", "legendX": 178.7, "legendY": 0, "symbolType": "stroke", "symbolSize": 324, "symbolStrokeWidth": 2, "clipHeight": 12, "rowPadding": 0, "labelOffset": 7, "titlePadding": 6, "titleAnchor": "middle", "labelFontSize": 10.5, "titleFontSize": 10.5, "titleFontWeight": "normal", "padding": 0}}
   }},
  {"data": {"name": "km"}, "transform": [{"filter": "datum.p == 'B' && datum.c == 1"}],
   "mark": {"type": "tick", "orient": "vertical", "size": 7, "thickness": 1, "opacity": 1},
   "encoding": {
    "x": {"field": "t", "type": "quantitative", "axis": {"values": [0,1,2,3,4,5], "labelPadding": 9, "title": "Time (years)", "titleFontSize": 10.3, "titleBaseline": "middle", "titleX": 138, "titleY": 43.3}},
    "y": {"field": "s", "type": "quantitative", "axis": {"values": [0,25,50,75,100], "labelExpr": "datum.value + ' %'", "offset": -12, "labelAngle": 270, "labelAlign": "center", "labelBaseline": "alphabetic", "labelPadding": 7, "title": "Overall survival (%)", "titleFontSize": 10.2, "titleAngle": 270, "titleAlign": "center", "titleBaseline": "alphabetic", "titleX": -41, "titleY": 96}},
    "color": {"field": "g", "type": "nominal", "scale": {"domain": ["Low","Intermediate","High"], "range": ["#4DAF4A","#377EB8","#E41A1C"]}, "legend": null}
   }},
  {"data": {"values": [{}]}, "mark": {"type": "rule", "color": "#222", "strokeWidth": 1},
   "encoding": {
    "x": {"datum": 0, "type": "quantitative", "axis": {"values": [0,1,2,3,4,5], "labelPadding": 9, "title": "Time (years)", "titleFontSize": 10.3, "titleBaseline": "middle", "titleX": 138, "titleY": 43.3}},
    "x2": {"datum": 5},
    "y": {"datum": -4, "type": "quantitative", "axis": {"values": [0,25,50,75,100], "labelExpr": "datum.value + ' %'", "offset": -12, "labelAngle": 270, "labelAlign": "center", "labelBaseline": "alphabetic", "labelPadding": 7, "title": "Overall survival (%)", "titleFontSize": 10.2, "titleAngle": 270, "titleAlign": "center", "titleBaseline": "alphabetic", "titleX": -41, "titleY": 96}}}},
  {"data": {"values": [{}]}, "mark": {"type": "rule", "color": "#222", "strokeWidth": 1},
   "encoding": {
    "x": {"datum": -0.2, "type": "quantitative", "axis": {"values": [0,1,2,3,4,5], "labelPadding": 9, "title": "Time (years)", "titleFontSize": 10.3, "titleBaseline": "middle", "titleX": 138, "titleY": 43.3}},
    "y": {"datum": 0, "type": "quantitative", "axis": {"values": [0,25,50,75,100], "labelExpr": "datum.value + ' %'", "offset": -12, "labelAngle": 270, "labelAlign": "center", "labelBaseline": "alphabetic", "labelPadding": 7, "title": "Overall survival (%)", "titleFontSize": 10.2, "titleAngle": 270, "titleAlign": "center", "titleBaseline": "alphabetic", "titleX": -41, "titleY": 96}},
    "y2": {"datum": 100}}},
  {"data": {"values": [{}]}, "mark": {"type": "text", "align": "right", "baseline": "middle", "fontSize": 8.5, "lineHeight": 9.8, "color": "#111"},
   "encoding": {
    "x": {"datum": 3.31, "type": "quantitative", "axis": {"values": [0,1,2,3,4,5], "labelPadding": 9, "title": "Time (years)", "titleFontSize": 10.3, "titleBaseline": "middle", "titleX": 138, "titleY": 43.3}},
    "y": {"datum": 7.25, "type": "quantitative", "axis": {"values": [0,25,50,75,100], "labelExpr": "datum.value + ' %'", "offset": -12, "labelAngle": 270, "labelAlign": "center", "labelBaseline": "alphabetic", "labelPadding": 7, "title": "Overall survival (%)", "titleFontSize": 10.2, "titleAngle": 270, "titleAlign": "center", "titleBaseline": "alphabetic", "titleX": -41, "titleY": 96}},
    "text": {"value": ["I vs L, HR = 1.88, 95%CI = 1.02 to 3.46", "H vs L, HR = 3.26, 95%CI = 1.78 to 5.98"]}}}
 ]
},
{
 "width": 264, "height": 51.6,
 "data": {"name": "risk"}, "transform": [{"filter": "datum.p == 'A'"}],
 "mark": {"type": "text", "fontSize": 9.6, "baseline": "middle"},
 "encoding": {
  "x": {"field": "t", "type": "quantitative", "scale": {"domain": [-0.433, 5.192], "nice": false, "zero": false},
        "axis": {"orient": "top", "labels": false, "ticks": false, "domain": false, "title": "A", "titleFontSize": 25, "titleAlign": "left", "titleBaseline": "alphabetic", "titleAngle": 0, "titleX": -60, "titleY": -253.3}},
  "y": {"field": "g", "type": "nominal", "scale": {"type": "point", "domain": ["Low","Intermediate","High"], "padding": 1.115, "align": 0.673},
        "axis": {"domain": false, "ticks": false, "tickSize": 0, "labelPadding": 0, "offset": -7.3, "labelExpr": "datum.value + ':'", "labelFontSize": 9.9, "title": "Number at risk", "titleAngle": 0, "titleAlign": "left", "titleBaseline": "middle", "titleX": -63.3, "titleY": 5, "titleFontSize": 10.2}},
  "color": {"field": "g", "type": "nominal", "scale": {"domain": ["Low","Intermediate","High"], "range": ["#4DAF4A","#377EB8","#E41A1C"]}, "legend": null},
  "text": {"field": "n", "type": "quantitative"}
 }
},
{
 "width": 265, "height": 51.6,
 "data": {"name": "risk"}, "transform": [{"filter": "datum.p == 'B'"}],
 "mark": {"type": "text", "fontSize": 9.6, "baseline": "middle"},
 "encoding": {
  "x": {"field": "t", "type": "quantitative", "scale": {"domain": [-0.448, 5.206], "nice": false, "zero": false},
        "axis": {"orient": "top", "labels": false, "ticks": false, "domain": false, "title": "B", "titleFontSize": 25, "titleAlign": "left", "titleBaseline": "alphabetic", "titleAngle": 0, "titleX": -59, "titleY": -253.3}},
  "y": {"field": "g", "type": "nominal", "scale": {"type": "point", "domain": ["Low","Intermediate","High"], "padding": 1.115, "align": 0.673},
        "axis": {"domain": false, "ticks": false, "tickSize": 0, "labelPadding": 0, "offset": -11, "labelExpr": "datum.value + ':'", "labelFontSize": 10.2, "title": "Number at risk", "titleAngle": 0, "titleAlign": "left", "titleBaseline": "middle", "titleX": -67, "titleY": 5, "titleFontSize": 10.2}},
  "color": {"field": "g", "type": "nominal", "scale": {"domain": ["Low","Intermediate","High"], "range": ["#4DAF4A","#377EB8","#E41A1C"]}, "legend": null},
  "text": {"field": "n", "type": "quantitative"}
 }
},
{
 "width": 264, "height": 192,
 "title": {"text": "GSE6891 - ClinseqG\u00a0 model", "fontSize": 18.5, "anchor": "middle", "frame": "group", "dx": -0.5, "dy": 3, "offset": -16.2, "baseline": "alphabetic"},
 "layer": [
  {"data": {"name": "km"}, "transform": [{"filter": "datum.p == 'C'"}],
   "mark": {"type": "line", "interpolate": "step-after", "strokeWidth": 2},
   "encoding": {
    "x": {"field": "t", "type": "quantitative", "scale": {"domain": [-0.397, 10.41], "nice": false, "zero": false},
          "axis": {"values": [0,1,2,3,4,5,6,7,8,9,10], "labelPadding": 9, "title": "Time (years)", "titleFontSize": 10.3, "titleBaseline": "middle", "titleX": 132.5, "titleY": 43.1}},
    "y": {"field": "s", "type": "quantitative", "scale": {"domain": [-4, 104], "nice": false, "zero": false},
          "axis": {"values": [0,25,50,75,100], "labelExpr": "datum.value + ' %'", "tickSize": 4.5, "offset": -2, "labelAngle": 270, "labelAlign": "center", "labelBaseline": "alphabetic", "labelPadding": 11, "title": "Overall survival (%)", "titleFontSize": 10.2, "titleAngle": 270, "titleAlign": "center", "titleBaseline": "alphabetic", "titleX": -43, "titleY": 96}},
    "color": {"field": "g", "type": "nominal", "scale": {"domain": ["Low","Intermediate","High"], "range": ["#4DAF4A","#377EB8","#E41A1C"]},
              "legend": {"title": "Risk", "orient": "none", "legendX": 177, "legendY": 0, "symbolType": "stroke", "symbolSize": 324, "symbolStrokeWidth": 2, "clipHeight": 12, "rowPadding": 0, "labelOffset": 7, "titlePadding": 6, "titleAnchor": "middle", "labelFontSize": 10.5, "titleFontSize": 10.5, "titleFontWeight": "normal", "padding": 0}}
   }},
  {"data": {"name": "km"}, "transform": [{"filter": "datum.p == 'C' && datum.c == 1"}],
   "mark": {"type": "tick", "orient": "vertical", "size": 7, "thickness": 1, "opacity": 1},
   "encoding": {
    "x": {"field": "t", "type": "quantitative", "axis": {"values": [0,1,2,3,4,5,6,7,8,9,10], "labelPadding": 9, "title": "Time (years)", "titleFontSize": 10.3, "titleBaseline": "middle", "titleX": 132.5, "titleY": 43.1}},
    "y": {"field": "s", "type": "quantitative", "axis": {"values": [0,25,50,75,100], "labelExpr": "datum.value + ' %'", "tickSize": 4.5, "offset": -2, "labelAngle": 270, "labelAlign": "center", "labelBaseline": "alphabetic", "labelPadding": 11, "title": "Overall survival (%)", "titleFontSize": 10.2, "titleAngle": 270, "titleAlign": "center", "titleBaseline": "alphabetic", "titleX": -43, "titleY": 96}},
    "color": {"field": "g", "type": "nominal", "scale": {"domain": ["Low","Intermediate","High"], "range": ["#4DAF4A","#377EB8","#E41A1C"]}, "legend": null}
   }},
  {"data": {"values": [{}]}, "mark": {"type": "rule", "color": "#222", "strokeWidth": 1},
   "encoding": {
    "x": {"datum": 0, "type": "quantitative", "axis": {"values": [0,1,2,3,4,5,6,7,8,9,10], "labelPadding": 9, "title": "Time (years)", "titleFontSize": 10.3, "titleBaseline": "middle", "titleX": 132.5, "titleY": 43.1}},
    "x2": {"datum": 10},
    "y": {"datum": -4, "type": "quantitative", "axis": {"values": [0,25,50,75,100], "labelExpr": "datum.value + ' %'", "tickSize": 4.5, "offset": -2, "labelAngle": 270, "labelAlign": "center", "labelBaseline": "alphabetic", "labelPadding": 11, "title": "Overall survival (%)", "titleFontSize": 10.2, "titleAngle": 270, "titleAlign": "center", "titleBaseline": "alphabetic", "titleX": -43, "titleY": 96}}}},
  {"data": {"values": [{}]}, "mark": {"type": "rule", "color": "#222", "strokeWidth": 1},
   "encoding": {
    "x": {"datum": -0.315, "type": "quantitative", "axis": {"values": [0,1,2,3,4,5,6,7,8,9,10], "labelPadding": 9, "title": "Time (years)", "titleFontSize": 10.3, "titleBaseline": "middle", "titleX": 132.5, "titleY": 43.1}},
    "y": {"datum": 0, "type": "quantitative", "axis": {"values": [0,25,50,75,100], "labelExpr": "datum.value + ' %'", "tickSize": 4.5, "offset": -2, "labelAngle": 270, "labelAlign": "center", "labelBaseline": "alphabetic", "labelPadding": 11, "title": "Overall survival (%)", "titleFontSize": 10.2, "titleAngle": 270, "titleAlign": "center", "titleBaseline": "alphabetic", "titleX": -43, "titleY": 96}},
    "y2": {"datum": 100}}},
  {"data": {"values": [{}]}, "mark": {"type": "text", "align": "right", "baseline": "middle", "fontSize": 8.5, "lineHeight": 9.3, "color": "#111"},
   "encoding": {
    "x": {"datum": 6.39, "type": "quantitative", "axis": {"values": [0,1,2,3,4,5,6,7,8,9,10], "labelPadding": 9, "title": "Time (years)", "titleFontSize": 10.3, "titleBaseline": "middle", "titleX": 132.5, "titleY": 43.1}},
    "y": {"datum": 8.3, "type": "quantitative", "axis": {"values": [0,25,50,75,100], "labelExpr": "datum.value + ' %'", "tickSize": 4.5, "offset": -2, "labelAngle": 270, "labelAlign": "center", "labelBaseline": "alphabetic", "labelPadding": 11, "title": "Overall survival (%)", "titleFontSize": 10.2, "titleAngle": 270, "titleAlign": "center", "titleBaseline": "alphabetic", "titleX": -43, "titleY": 96}},
    "text": {"value": ["I vs L, HR = 1.41, 95%CI = 1.04 to 1.91", "H vs L, HR = 2.28, 95%CI = 1.71 to 3.06"]}}}
 ]
},
{
 "width": 265, "height": 192,
 "title": {"text": "GSE6891 - ClinseqG model", "fontSize": 18.5, "anchor": "middle", "frame": "group", "dx": 1.5, "dy": 3, "offset": -16.2, "baseline": "alphabetic"},
 "layer": [
  {"data": {"name": "km"}, "transform": [{"filter": "datum.p == 'D'"}],
   "mark": {"type": "line", "interpolate": "step-after", "strokeWidth": 2},
   "encoding": {
    "x": {"field": "t", "type": "quantitative", "scale": {"domain": [-0.408, 10.396], "nice": false, "zero": false},
          "axis": {"values": [0,1,2,3,4,5,6,7,8,9,10], "labelPadding": 9, "title": "Time (years)", "titleFontSize": 10.3, "titleBaseline": "middle", "titleX": 133, "titleY": 43.1}},
    "y": {"field": "s", "type": "quantitative", "scale": {"domain": [-4, 104], "nice": false, "zero": false},
          "axis": {"values": [0,25,50,75,100], "labelExpr": "datum.value + ' %'", "tickSize": 4.5, "offset": 0, "labelAngle": 270, "labelAlign": "center", "labelBaseline": "alphabetic", "labelPadding": 10.2, "title": "Event-free survival (%)", "titleFontSize": 10.2, "titleAngle": 270, "titleAlign": "center", "titleBaseline": "alphabetic", "titleX": -37.5, "titleY": 96}},
    "color": {"field": "g", "type": "nominal", "scale": {"domain": ["Low","Intermediate","High"], "range": ["#4DAF4A","#377EB8","#E41A1C"]},
              "legend": {"title": "Risk", "orient": "none", "legendX": 177.7, "legendY": 0, "symbolType": "stroke", "symbolSize": 324, "symbolStrokeWidth": 2, "clipHeight": 12, "rowPadding": 0, "labelOffset": 7, "titlePadding": 6, "titleAnchor": "middle", "labelFontSize": 10.5, "titleFontSize": 10.5, "titleFontWeight": "normal", "padding": 0}}
   }},
  {"data": {"name": "km"}, "transform": [{"filter": "datum.p == 'D' && datum.c == 1"}],
   "mark": {"type": "tick", "orient": "vertical", "size": 7, "thickness": 1, "opacity": 1},
   "encoding": {
    "x": {"field": "t", "type": "quantitative", "axis": {"values": [0,1,2,3,4,5,6,7,8,9,10], "labelPadding": 9, "title": "Time (years)", "titleFontSize": 10.3, "titleBaseline": "middle", "titleX": 133, "titleY": 43.1}},
    "y": {"field": "s", "type": "quantitative", "axis": {"values": [0,25,50,75,100], "labelExpr": "datum.value + ' %'", "tickSize": 4.5, "offset": 0, "labelAngle": 270, "labelAlign": "center", "labelBaseline": "alphabetic", "labelPadding": 10.2, "title": "Event-free survival (%)", "titleFontSize": 10.2, "titleAngle": 270, "titleAlign": "center", "titleBaseline": "alphabetic", "titleX": -37.5, "titleY": 96}},
    "color": {"field": "g", "type": "nominal", "scale": {"domain": ["Low","Intermediate","High"], "range": ["#4DAF4A","#377EB8","#E41A1C"]}, "legend": null}
   }},
  {"data": {"values": [{}]}, "mark": {"type": "rule", "color": "#222", "strokeWidth": 1},
   "encoding": {
    "x": {"datum": 0, "type": "quantitative", "axis": {"values": [0,1,2,3,4,5,6,7,8,9,10], "labelPadding": 9, "title": "Time (years)", "titleFontSize": 10.3, "titleBaseline": "middle", "titleX": 133, "titleY": 43.1}},
    "x2": {"datum": 10},
    "y": {"datum": -4, "type": "quantitative", "axis": {"values": [0,25,50,75,100], "labelExpr": "datum.value + ' %'", "tickSize": 4.5, "offset": 0, "labelAngle": 270, "labelAlign": "center", "labelBaseline": "alphabetic", "labelPadding": 10.2, "title": "Event-free survival (%)", "titleFontSize": 10.2, "titleAngle": 270, "titleAlign": "center", "titleBaseline": "alphabetic", "titleX": -37.5, "titleY": 96}}}},
  {"data": {"values": [{}]}, "mark": {"type": "rule", "color": "#222", "strokeWidth": 1},
   "encoding": {
    "x": {"datum": -0.39, "type": "quantitative", "axis": {"values": [0,1,2,3,4,5,6,7,8,9,10], "labelPadding": 9, "title": "Time (years)", "titleFontSize": 10.3, "titleBaseline": "middle", "titleX": 133, "titleY": 43.1}},
    "y": {"datum": 0, "type": "quantitative", "axis": {"values": [0,25,50,75,100], "labelExpr": "datum.value + ' %'", "tickSize": 4.5, "offset": 0, "labelAngle": 270, "labelAlign": "center", "labelBaseline": "alphabetic", "labelPadding": 10.2, "title": "Event-free survival (%)", "titleFontSize": 10.2, "titleAngle": 270, "titleAlign": "center", "titleBaseline": "alphabetic", "titleX": -37.5, "titleY": 96}},
    "y2": {"datum": 100}}},
  {"data": {"values": [{}]}, "mark": {"type": "text", "align": "right", "baseline": "middle", "fontSize": 8.5, "lineHeight": 9.3, "color": "#111"},
   "encoding": {
    "x": {"datum": 6.36, "type": "quantitative", "axis": {"values": [0,1,2,3,4,5,6,7,8,9,10], "labelPadding": 9, "title": "Time (years)", "titleFontSize": 10.3, "titleBaseline": "middle", "titleX": 133, "titleY": 43.1}},
    "y": {"datum": 7.4, "type": "quantitative", "axis": {"values": [0,25,50,75,100], "labelExpr": "datum.value + ' %'", "tickSize": 4.5, "offset": 0, "labelAngle": 270, "labelAlign": "center", "labelBaseline": "alphabetic", "labelPadding": 10.2, "title": "Event-free survival (%)", "titleFontSize": 10.2, "titleAngle": 270, "titleAlign": "center", "titleBaseline": "alphabetic", "titleX": -37.5, "titleY": 96}},
    "text": {"value": ["I vs L, HR = 1.45, 95%CI = 1.09 to 1.92", "H vs L, HR = 2.35, 95%CI = 1.78 to 3.10"]}}}
 ]
},
{
 "width": 264, "height": 51.6,
 "data": {"name": "risk"}, "transform": [{"filter": "datum.p == 'C'"}],
 "mark": {"type": "text", "fontSize": 8.3, "baseline": "middle"},
 "encoding": {
  "x": {"field": "t", "type": "quantitative", "scale": {"domain": [-0.397, 10.41], "nice": false, "zero": false},
        "axis": {"orient": "top", "labels": false, "ticks": false, "domain": false, "title": "C", "titleFontSize": 25, "titleAlign": "left", "titleBaseline": "alphabetic", "titleAngle": 0, "titleX": -60, "titleY": -257.9}},
  "y": {"field": "g", "type": "nominal", "scale": {"type": "point", "domain": ["Low","Intermediate","High"], "padding": 1.15, "align": 0.656},
        "axis": {"domain": false, "ticks": false, "tickSize": 0, "labelPadding": 0, "offset": 1.7, "labelExpr": "datum.value + ':'", "labelFontSize": 8.7, "title": "Number at risk", "titleAngle": 0, "titleAlign": "left", "titleBaseline": "middle", "titleX": -54.3, "titleY": 6.4, "titleFontSize": 8.6}},
  "color": {"field": "g", "type": "nominal", "scale": {"domain": ["Low","Intermediate","High"], "range": ["#4DAF4A","#377EB8","#E41A1C"]}, "legend": null},
  "text": {"field": "n", "type": "quantitative"}
 }
},
{
 "width": 265, "height": 51.6,
 "data": {"name": "risk"}, "transform": [{"filter": "datum.p == 'D'"}],
 "mark": {"type": "text", "fontSize": 8.3, "baseline": "middle"},
 "encoding": {
  "x": {"field": "t", "type": "quantitative", "scale": {"domain": [-0.408, 10.396], "nice": false, "zero": false},
        "axis": {"orient": "top", "labels": false, "ticks": false, "domain": false, "title": "D", "titleFontSize": 25, "titleAlign": "left", "titleBaseline": "alphabetic", "titleAngle": 0, "titleX": -59, "titleY": -257.9}},
  "y": {"field": "g", "type": "nominal", "scale": {"type": "point", "domain": ["Low","Intermediate","High"], "padding": 1.15, "align": 0.656},
        "axis": {"domain": false, "ticks": false, "tickSize": 0, "labelPadding": 0, "offset": 1.3, "labelExpr": "datum.value + ':'", "labelFontSize": 8.5, "title": "Number at risk", "titleAngle": 0, "titleAlign": "left", "titleBaseline": "middle", "titleX": -54.4, "titleY": 6.4, "titleFontSize": 7.8}},
  "color": {"field": "g", "type": "nominal", "scale": {"domain": ["Low","Intermediate","High"], "range": ["#4DAF4A","#377EB8","#E41A1C"]}, "legend": null},
  "text": {"field": "n", "type": "quantitative"}
 }
}
]
}
